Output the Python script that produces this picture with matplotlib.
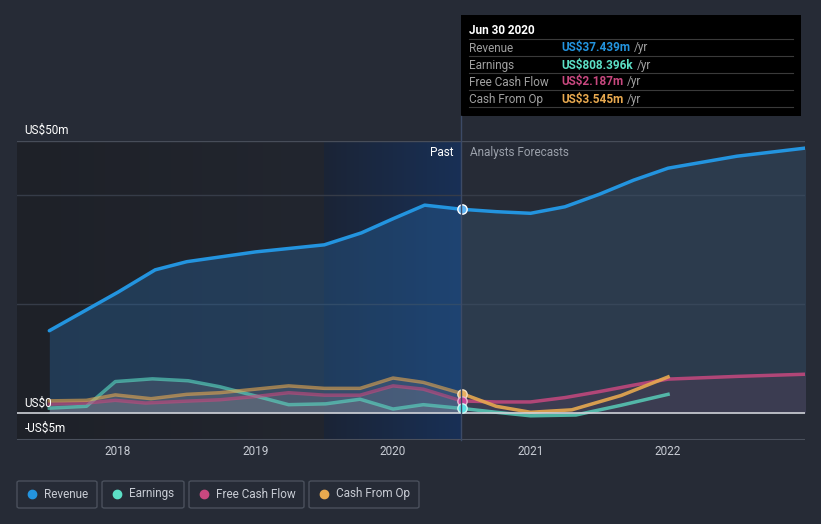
import matplotlib
matplotlib.use('Agg')
import matplotlib.pyplot as plt
import numpy as np
from matplotlib.patches import Rectangle, FancyBboxPatch
from matplotlib.lines import Line2D
from matplotlib.colors import LinearSegmentedColormap

# data (US$m)
rev_x = [2017.5, 2018.0, 2018.27, 2018.5, 2019.0, 2019.5, 2019.77, 2020.0, 2020.23, 2020.5]
rev_y = [15.1, 22.2, 26.3, 27.8, 29.6, 30.9, 33.1, 35.7, 38.2, 37.439]
rev_fx = [2020.5, 2020.75, 2021.0, 2021.25, 2021.5, 2021.75, 2022.0, 2022.5, 2023.0]
rev_fy = [37.439, 37.0, 36.7, 37.9, 40.2, 42.8, 45.0, 47.2, 48.7]

earn_x = [2017.5, 2017.77, 2017.98, 2018.25, 2018.51, 2018.74, 2019.0, 2019.24, 2019.51, 2019.76, 2020.0, 2020.22, 2020.5]
earn_y = [0.86, 1.2, 5.75, 6.25, 5.9, 4.8, 3.1, 1.5, 1.65, 2.5, 0.7, 1.5, 0.808]
earn_fx = [2020.5, 2020.75, 2021.0, 2021.33, 2021.66, 2022.0]
earn_fy = [0.808, 0.1, -0.55, -0.4, 1.4, 3.4]

fcf_x = [2017.5, 2017.77, 2017.98, 2018.2, 2018.5, 2018.74, 2019.0, 2019.24, 2019.5, 2019.76, 2020.0, 2020.22, 2020.5]
fcf_y = [1.6, 1.8, 2.3, 1.8, 2.15, 2.4, 3.0, 3.7, 3.25, 3.25, 4.96, 4.35, 2.187]
fcf_fx = [2020.5, 2020.75, 2021.0, 2021.25, 2021.5, 2021.75, 2022.0, 2022.5, 2023.0]
fcf_fy = [2.187, 2.0, 2.0, 2.8, 3.9, 5.1, 6.2, 6.7, 7.1]

cfo_x = [2017.5, 2017.77, 2017.98, 2018.24, 2018.5, 2018.74, 2019.0, 2019.24, 2019.5, 2019.76, 2020.0, 2020.22, 2020.5]
cfo_y = [2.2, 2.3, 3.3, 2.6, 3.4, 3.7, 4.35, 4.96, 4.5, 4.5, 6.4, 5.6, 3.545]
cfo_fx = [2020.5, 2020.75, 2021.0, 2021.3, 2021.66, 2022.0]
cfo_fy = [3.545, 1.2, 0.1, 0.55, 3.2, 6.6]

years = [2018, 2019, 2020, 2021, 2022]
series_names = ['Revenue', 'Earnings', 'Free Cash Flow', 'Cash From Op']
series_vals = ['US$37.439m', 'US$808.396k', 'US$2.187m', 'US$3.545m']
colors = ['#2394df', '#5ce0c6', '#c8487f', '#e8a94f']

plt.rcParams['font.family'] = ['Roboto', 'DejaVu Sans']

W, H = 821, 524
bg = '#262b36'
fig = plt.figure(figsize=(W / 100, H / 100), dpi=100, facecolor=bg)

def fx(px):
    return px / W

def fy(py):
    return 1 - py / H

ax = fig.add_axes([fx(17), fy(440), fx(805) - fx(17), fy(141) - fy(440)])
ax.set_facecolor(bg)
x0, x1 = 2017.265, 2022.996
for s in ax.spines.values():
    s.set_visible(False)
ax.set_yticks([])
ax.set_xticks([])

# past shaded regions
grad = np.linspace(0, 1, 256).reshape(1, -1)
cm_dark = LinearSegmentedColormap.from_list('d', ['#1e2128', '#22262f'])
cm_blue = LinearSegmentedColormap.from_list('b', ['#1b2436', '#183056'])
ax.imshow(grad, extent=[x0, 2019.5, -5, 50], aspect='auto', cmap=cm_dark, zorder=0)
ax.imshow(grad, extent=[2019.5, 2020.5, -5, 50], aspect='auto', cmap=cm_blue, zorder=0)
ax.set_xlim(x0, x1)
ax.set_ylim(-5, 50)

# gridlines
for g in [20, 40]:
    ax.axhline(g, color='#363c48', lw=1, zorder=1)
ax.axhline(50, color='#474d59', lw=1, zorder=1)

# revenue fill
ax.fill_between(rev_x, rev_y, 0, color='#2a6aa8', alpha=0.35, lw=0, zorder=2)
ax.fill_between(rev_fx, rev_fy, 0, color='#3a5a7a', alpha=0.35, lw=0, zorder=2)

# other fills
for xs, ys in [(earn_x, earn_y), (fcf_x, fcf_y), (cfo_x, cfo_y)]:
    ax.fill_between(xs, ys, 0, color='#8a8a96', alpha=0.22, lw=0, zorder=3)
ax.fill_between(fcf_fx, fcf_fy, 0, color='#6a4060', alpha=0.25, lw=0, zorder=3)

ax.plot(rev_x, rev_y, color=colors[0], lw=2.5, zorder=5, solid_capstyle='round')
ax.plot(rev_fx, rev_fy, color=colors[0], lw=2.5, zorder=5, solid_capstyle='round')
ax.plot(earn_x, earn_y, color=colors[1], lw=2.5, alpha=0.6, zorder=4)
ax.plot(earn_fx, earn_fy, color=colors[1], lw=2.5, alpha=0.75, zorder=4)
ax.plot(fcf_x, fcf_y, color=colors[2], lw=2.5, alpha=0.6, zorder=4)
ax.plot(fcf_fx, fcf_fy, color=colors[2], lw=2.5, alpha=0.85, zorder=4)
ax.plot(cfo_x, cfo_y, color=colors[3], lw=2.5, alpha=0.6, zorder=4)
ax.plot(cfo_fx, cfo_fy, color=colors[3], lw=2.5, alpha=0.9, zorder=4)

# zero line and bottom axis line
ax.axhline(0, color='#cfd2d8', lw=1.2, zorder=6)
ax.axhline(-5, color='#4a505c', lw=1.5, zorder=6)

# markers at Jun 30 2020
ax.scatter([2020.5], [rev_y[-1]], s=45, color='#5fb3f2', edgecolor='white', lw=1, zorder=8)
ax.scatter([2020.5], [cfo_y[-1]], s=45, color='#e8b060', edgecolor='#f4e0c0', lw=1, zorder=8)
ax.scatter([2020.5], [fcf_y[-1]], s=45, color='#c8489a', edgecolor='#e6b8d0', lw=1, zorder=8)
ax.scatter([2020.5], [earn_y[-1]], s=45, color='#5ce0e6', edgecolor='#d0f4f0', lw=1, zorder=8)

# now line
fig.add_artist(Line2D([fx(461), fx(461)], [fy(116), fy(440)], color='#3c4a66', lw=1))

# y labels
ax.text(2017.32, 50.8, 'US$50m', color='white', fontsize=8.5, va='bottom', ha='left', zorder=9)
ax.text(2017.32, 0.6, 'US$0', color='white', fontsize=8.5, va='bottom', ha='left', zorder=9)
ax.text(2017.32, -2.9, '-US$5m', color='white', fontsize=8.5, va='center', ha='left', zorder=9)

# x labels
for yr in years:
    ax.text(yr, -7.2, str(yr), color='#c8ccd4', fontsize=8.5, ha='center', va='center')

ax.text(2020.44, 47.8, 'Past', color='white', fontsize=8.5, ha='right', va='center')
ax.text(2020.56, 47.8, 'Analysts Forecasts', color='#9aa0aa', fontsize=8.5, ha='left', va='center')

# tooltip
fig.add_artist(Rectangle((fx(461), fy(116)), fx(801) - fx(461), fy(15) - fy(116),
                         facecolor='black', edgecolor='none'))
fig.text(fx(469), fy(31), 'Jun 30 2020', color='white', fontsize=8.5, fontweight='bold', va='center')
for py in [39, 56, 73, 90, 107]:
    fig.add_artist(Line2D([fx(469), fx(793)], [fy(py), fy(py)], color='#3a3a3a', lw=0.8))
for i, (nm, val) in enumerate(zip(series_names, series_vals)):
    yy = fy(48 + 17 * i)
    fig.text(fx(469), yy, nm, color='#a0a0a0', fontsize=8.5, va='center')
    t = fig.text(fx(561), yy, val, color=colors[i], fontsize=8.5, fontweight='bold', va='center')
    fig.canvas.draw()
    bb = t.get_window_extent()
    fig.text(bb.x1 / W + fx(4), yy, '/yr', color='#a0a0a0', fontsize=8.5, va='center')

# legend
boxes = [(17, 97), (102, 184), (189, 304), (309, 419)]
for (l, r), nm, c in zip(boxes, series_names, colors):
    fig.add_artist(FancyBboxPatch((fx(l), fy(508)), fx(r) - fx(l), fy(481) - fy(508),
                                  boxstyle='round,pad=0,rounding_size=0.003',
                                  facecolor='none', edgecolor='#4a505c', lw=1))
    fig.add_artist(Line2D([fx(l + 15)], [fy(494)], marker='o', ms=6, color=c, mec=c))
    fig.text(fx(l + 27), fy(494), nm, color='#c8ccd4', fontsize=8.5, va='center')

plt.savefig('out.png', dpi=100, facecolor=bg)
plt.close()
